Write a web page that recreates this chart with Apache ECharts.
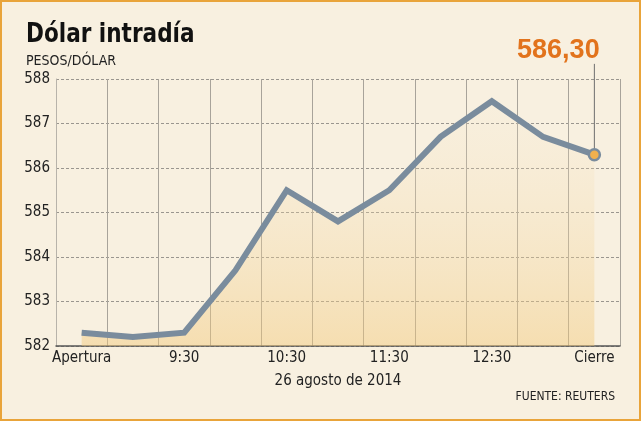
<!DOCTYPE html>
<html>
<head>
<meta charset="utf-8">
<script src="https://cdn.jsdelivr.net/npm/echarts@6/dist/echarts.min.js"></script>
<style>
  html, body { margin: 0; padding: 0; background: #f8f0e0; }
  #wrap { position: relative; width: 641px; height: 421px; }
  #chart { width: 641px; height: 421px; }
  #frame { position: absolute; left: 0; top: 0; right: 0; bottom: 0; border: 2px solid #e9a43a; pointer-events: none; }
</style>
</head>
<body>
<div id="wrap"><div id="chart"></div><div id="frame"></div></div>
<script>
// horas de la sesion
var horas = ['Apertura', '9:00', '9:30', '10:00', '10:30', '11:00', '11:30', '12:00', '12:30', '13:00', 'Cierre'];
// pesos por dolar
var valores = [582.3, 582.2, 582.3, 583.7, 585.5, 584.8, 585.5, 586.7, 587.5, 586.7, 586.3];
var yMin = 582, yMax = 588, yPaso = 1;
var fecha = '26 agosto de 2014';
var fuente = 'FUENTE: REUTERS';

var FONT = '"DejaVu Sans Condensed", "DejaVu Sans", sans-serif';
var ultimo = valores.length - 1;
var cierreTxt = valores[ultimo].toFixed(2).replace('.', ',');
var topeEtiqueta = yMax + 0.34; // donde termina la linea de la etiqueta

var myChart = echarts.init(document.getElementById('chart'));
var option = {
	backgroundColor: '#f8f0e0',
	animation: false,
	textStyle: { fontFamily: FONT },
	graphic: [{
		type: 'text',
		x: 26, y: 22,
		scaleX: 0.83,
		style: { text: 'Dólar intradía', font: 'bold 26px "DejaVu Sans", sans-serif', fill: '#111' }
	}],
	title: [{
		text: 'PESOS/DÓLAR',
		left: 21, top: 49,
		textStyle: { fontFamily: FONT, fontSize: 14, fontWeight: 'normal', color: '#222' }
	}, {
		text: fuente,
		right: 21, top: 386,
		textStyle: { fontFamily: FONT, fontSize: 12, fontWeight: 'normal', color: '#222' }
	}],
	grid: { left: 56, right: 21, top: 79, bottom: 75 },
	xAxis: {
		type: 'category',
		data: horas,
		boundaryGap: true,
		name: fecha,
		nameLocation: 'middle',
		nameGap: 28,
		nameTextStyle: { fontFamily: FONT, fontSize: 15, color: '#222' },
		axisLine: { show: true, lineStyle: { color: '#555', width: 1.5 } },
		axisTick: { show: false },
		axisLabel: { interval: 1, fontFamily: FONT, fontSize: 15, color: '#222', margin: 5 },
		splitLine: { show: true, interval: 0, lineStyle: { color: '#a8a39a', width: 1 } }
	},
	yAxis: {
		type: 'value',
		min: yMin, max: yMax, interval: yPaso,
		axisLine: { show: true, lineStyle: { color: '#b8b3aa', width: 1 } },
		axisTick: { show: false },
		axisLabel: { fontFamily: FONT, fontSize: 15, color: '#222', margin: 6 },
		splitLine: { show: true, lineStyle: { color: '#9a968f', width: 1, type: [3, 2] } }
	},
	series: [{
		type: 'line',
		data: valores,
		clip: false,
		symbol: 'none',
		lineStyle: { color: '#7a8c9d', width: 6, join: 'miter' },
		areaStyle: {
			color: {
				type: 'linear', x: 0, y: 0, x2: 0, y2: 1,
				colorStops: [
					{ offset: 0, color: 'rgba(246,232,205,0.2)' },
					{ offset: 1, color: 'rgba(242,200,120,0.65)' }
				]
			}
		},
		z: 3
	}, {
		// linea guia hacia la etiqueta del cierre
		type: 'line',
		data: [[ultimo, valores[ultimo]], [ultimo, topeEtiqueta]],
		clip: false,
		symbol: 'none',
		silent: true,
		lineStyle: { color: '#6f6f6f', width: 1 },
		z: 4
	}, {
		type: 'scatter',
		data: [[ultimo, topeEtiqueta]],
		clip: false,
		symbolSize: 0,
		silent: true,
		itemStyle: { opacity: 1 },
		label: {
			show: true, position: 'top', distance: 0, offset: [-36, 0],
			formatter: cierreTxt,
			fontFamily: '"Liberation Sans", sans-serif', fontSize: 27, fontWeight: 'bold', color: '#e2731c'
		},
		z: 4
	}, {
		type: 'scatter',
		data: [[ultimo, valores[ultimo]]],
		symbol: 'circle',
		symbolSize: 11,
		silent: true,
		itemStyle: { color: '#f0b04e', borderColor: '#7a8c9d', borderWidth: 2.5, opacity: 1 },
		z: 5
	}]
};
myChart.setOption(option);
</script>
</body>
</html>
